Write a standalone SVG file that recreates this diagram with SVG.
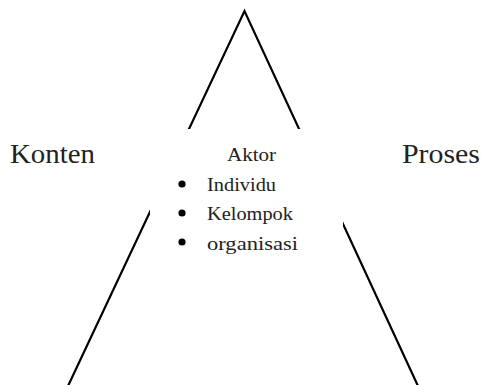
<svg xmlns="http://www.w3.org/2000/svg" width="482" height="385" viewBox="0 0 482 385">
<style>
.edge{stroke:#000;stroke-width:2.2;fill:none}
.big{font-family:"Liberation Serif","DejaVu Serif",serif;font-size:27px;fill:#222}
.small{font-family:"Liberation Serif","DejaVu Serif",serif;font-size:19px;fill:#222}
</style>
<rect width="482" height="385" fill="#fff"/>
<g id="connectors">
<path class="edge" d="M68 386 L244.5 11 L418 386"/>
</g>
<g id="aktor">
<rect x="150" y="129" width="193" height="128" fill="#fff"/>
<text class="small" x="251.5" y="161" text-anchor="middle" textLength="49" lengthAdjust="spacingAndGlyphs">Aktor</text>
<circle cx="182" cy="184" r="3.6" fill="#000"/>
<circle cx="182" cy="213" r="3.6" fill="#000"/>
<circle cx="182" cy="242" r="3.6" fill="#000"/>
<text class="small" x="207" y="191" textLength="69" lengthAdjust="spacingAndGlyphs">Individu</text>
<text class="small" x="207" y="220" textLength="86" lengthAdjust="spacingAndGlyphs">Kelompok</text>
<text class="small" x="207" y="250" textLength="91" lengthAdjust="spacingAndGlyphs">organisasi</text>
</g>
<g id="konten">
<text class="big" x="10" y="163" textLength="85" lengthAdjust="spacingAndGlyphs">Konten</text>
</g>
<g id="proses">
<text class="big" x="402" y="163" textLength="78" lengthAdjust="spacingAndGlyphs">Proses</text>
</g>
</svg>
